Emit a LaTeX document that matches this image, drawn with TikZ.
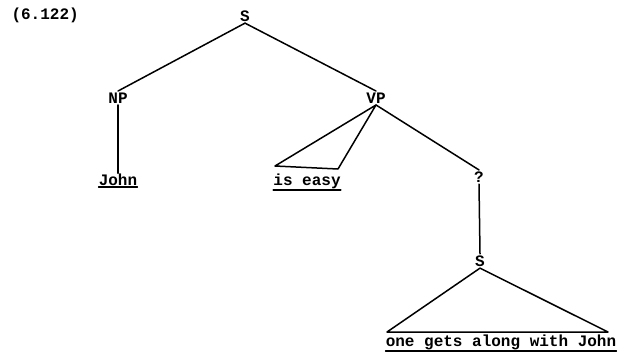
\documentclass[tikz,border=0pt]{standalone}
\usepackage{fontspec}
\setmonofont{Liberation Mono}
\usetikzlibrary{positioning}
\tikzset{
  every picture/.style={font=\ttfamily\bfseries\fontsize{16}{19}\selectfont},
  cat/.style={inner sep=1.5pt},
  hoja/.style={inner sep=0pt, anchor=base},
  rama/.style={line width=1.5pt, line cap=round, line join=round},
}

\begin{document}
\begin{tikzpicture}[x=1pt, y=-1pt]
  \useasboundingbox (0,0) rectangle (628,354);
  \node[anchor=west] (num) at (8,15) {(6.122)};
  \node[cat] (s) at (245,16) {S};
  \node[cat] (np) at (118,98) {NP};
  \node[cat] (vp) at (376,98) {VP};
  \node[cat] (q) at (479,177) {?};
  \node[cat] (s2) at (480,261) {S};
  \node[hoja] (john) at (118,185) {John};
  \node[hoja] (easy) at (307,185) {is easy};
  \node[hoja] (frase) at (501,346) {one gets along with John};
  \foreach \n in {john,easy,frase}
    \draw[rama] ([yshift=-1.5pt]\n.south west) -- ([yshift=-1.5pt]\n.south east);
  % ramas
  \draw[rama] (s.south) -- (np.north);
  \draw[rama] (s.south) -- (vp.north);
  \draw[rama] (np.south) -- (john.north);
  \coordinate (va) at (275,166);
  \coordinate (vb) at (338,169);
  \draw[rama] (vp.south) -- (vb) -- (va) -- cycle;
  \draw[rama] (vp.south) -- (q.north);
  \draw[rama] (q.south) -- (s2.north);
  \coordinate (fa) at (387,332);
  \coordinate (fb) at (608,332);
  \draw[rama] (s2.south) -- (fb) -- (fa) -- cycle;
\end{tikzpicture}
\end{document}
